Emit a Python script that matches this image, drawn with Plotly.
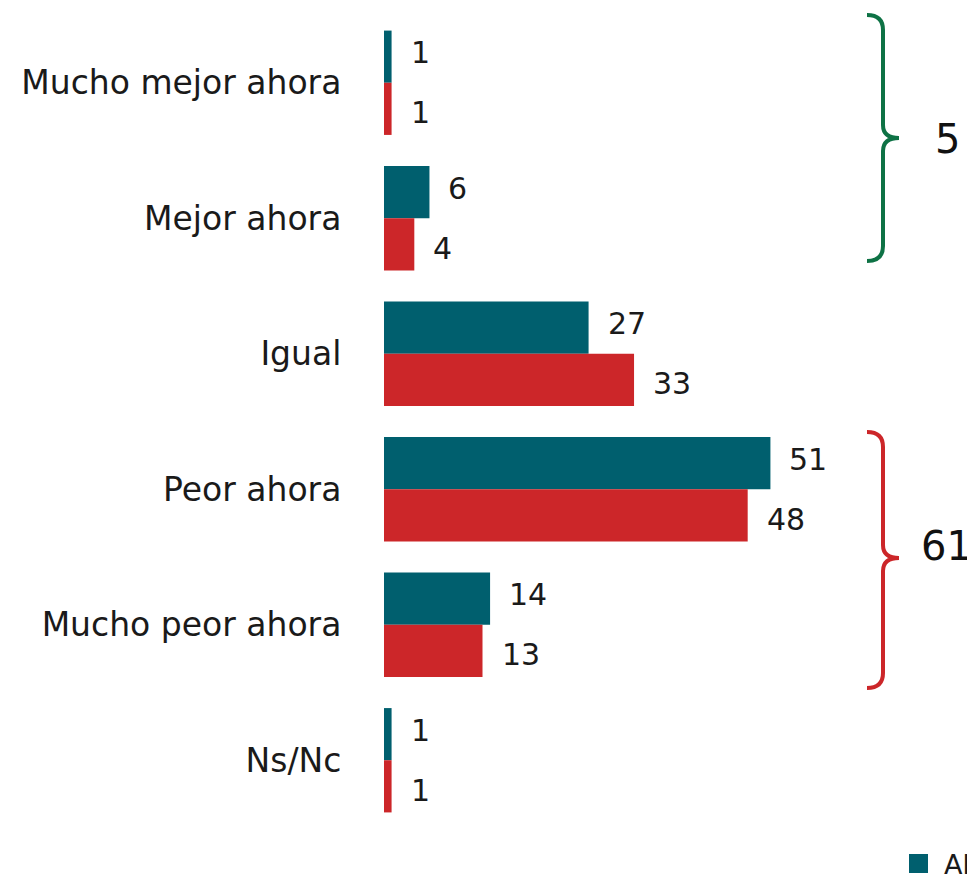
import plotly.graph_objects as go

categories = ["Mucho mejor ahora", "Mejor ahora", "Igual", "Peor ahora", "Mucho peor ahora", "Ns/Nc"]
series_names = ["Abril 2021", "Octubre 2020"]
teal_values = [1, 6, 27, 51, 14, 1]
red_values = [1, 4, 33, 48, 13, 1]
bracket_totals = ["5", "61"]

TEAL = "#005F6E"
RED = "#CC2629"
GREEN = "#0E7245"
TXT = "#1A1A1A"
FONT = "DejaVu Sans"

OFF = 8  # page body margin
W, H = 975 - OFF, 880 - OFF
ML, MR, MT, MB = 384 - OFF, 0, 15 - OFF, 52
PW, PH = W - ML - MR, H - MT - MB


def px(x):
    """page pixel x -> paper coordinate"""
    return (x - OFF - ML) / PW


def py(y):
    """page pixel y -> paper coordinate"""
    return 1 - (y - OFF - MT) / PH


fig = go.Figure()
fig.add_trace(go.Bar(y=categories, x=teal_values, name=series_names[0], orientation="h",
                     marker=dict(color=TEAL, line=dict(width=0))))
fig.add_trace(go.Bar(y=categories, x=red_values, name=series_names[1], orientation="h",
                     marker=dict(color=RED, line=dict(width=0))))

bargap = 0.23
half = (1 - bargap) / 4
annotations = []
for i, cat in enumerate(categories):
    for vals, off, ys in ((teal_values, -half, 4), (red_values, half, -4)):
        annotations.append(dict(x=vals[i], y=i + off, xref="x", yref="y", text=str(vals[i]),
                                showarrow=False, xanchor="left", yanchor="middle",
                                xshift=17, yshift=ys,
                                font=dict(size=30, color=TXT, family=FONT)))


def brace(top, tip, bottom, xl=867, xv=883, xt=899):
    return (f"M {px(xl)},{py(top)} Q {px(xv)},{py(top)} {px(xv)},{py(top+15)} "
            f"L {px(xv)},{py(tip-13)} Q {px(xv)},{py(tip)} {px(xt)},{py(tip)} "
            f"Q {px(xv)},{py(tip)} {px(xv)},{py(tip+13)} "
            f"L {px(xv)},{py(bottom-15)} Q {px(xv)},{py(bottom)} {px(xl)},{py(bottom)}")


shapes = [
    dict(type="path", xref="paper", yref="paper", path=brace(15, 138, 261),
         line=dict(color=GREEN, width=4)),
    dict(type="path", xref="paper", yref="paper", path=brace(432, 558, 688),
         line=dict(color=RED, width=4)),
    # legend swatches (legend drawn manually so it can run past the right edge like the reference)
    dict(type="rect", xref="paper", yref="paper", x0=px(909), x1=px(928), y0=py(873), y1=py(854),
         fillcolor=TEAL, line=dict(width=0)),
    dict(type="rect", xref="paper", yref="paper", x0=px(1110), x1=px(1129), y0=py(873), y1=py(854),
         fillcolor=RED, line=dict(width=0)),
]
annotations.append(dict(x=px(947), y=py(139), xref="paper", yref="paper", text=bracket_totals[0],
                        showarrow=False, xanchor="center", yanchor="middle",
                        font=dict(size=40, color="#111", family=FONT)))
annotations.append(dict(x=px(946), y=py(546), xref="paper", yref="paper", text=bracket_totals[1],
                        showarrow=False, xanchor="center", yanchor="middle",
                        font=dict(size=40, color="#111", family=FONT)))
annotations.append(dict(x=px(942), y=py(864), xref="paper", yref="paper", text=series_names[0],
                        showarrow=False, xanchor="left", yanchor="middle",
                        font=dict(size=27, color=TXT, family=FONT)))
annotations.append(dict(x=px(1144), y=py(864), xref="paper", yref="paper", text=series_names[1],
                        showarrow=False, xanchor="left", yanchor="middle",
                        font=dict(size=27, color=TXT, family=FONT)))

fig.update_layout(
    width=W, height=H, autosize=False,
    margin=dict(l=ML, r=MR, t=MT, b=MB, pad=0),
    paper_bgcolor="white", plot_bgcolor="white",
    barmode="group", bargap=bargap, bargroupgap=0,
    font=dict(family=FONT, color=TXT, size=30),
    xaxis=dict(range=[0, 78], visible=False, fixedrange=True),
    yaxis=dict(categoryorder="array", categoryarray=categories, autorange="reversed",
               showgrid=False, zeroline=False, showline=False, automargin=False,
               ticks="outside", ticklen=35, tickcolor="rgba(0,0,0,0)",
               tickfont=dict(size=33, color=TXT, family=FONT)),
    showlegend=False,
    shapes=shapes, annotations=annotations,
)

fig.write_html("out.html")
